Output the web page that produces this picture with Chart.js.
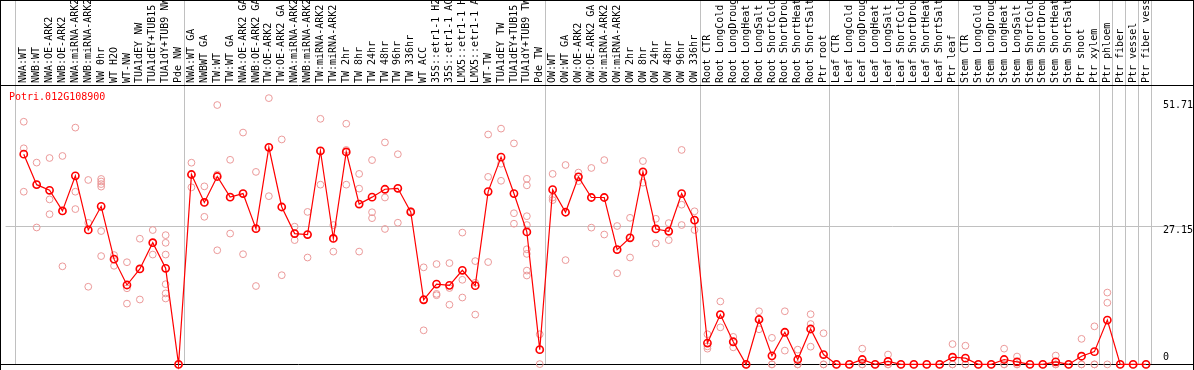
<!DOCTYPE html>
<html><head><meta charset="utf-8">
<script src="https://cdn.jsdelivr.net/npm/chart.js@4"></script>
<style>html,body{margin:0;padding:0;background:#fff;overflow:hidden}canvas{display:block}</style>
</head><body>
<canvas id="c" width="1194" height="370"></canvas>
<script>
const geneName = 'Potri.012G108900';

const categories = [
  'NWA:WT','NWB:WT','NWA:OE-ARK2','NWB:OE-ARK2','NWA:miRNA-ARK2','NWB:miRNA-ARK2','NW 0hr','WT H2O','WT-NW',
  'TUA1dEY NW','TUA1dEY+TUB15 NW','TUA1dY+TUB9 NW','Pde NW',
  'NWA:WT GA','NWBWT GA','TW:WT','TW:WT GA','NWA:OE-ARK2 GA','NWB:OE-ARK2 GA','TW:OE-ARK2','TW:OE-ARK2 GA',
  'NWA:miRNA-ARK2 GA','NWB:miRNA-ARK2 GA','TW:miRNA-ARK2','TW:miRNA-ARK2','TW 2hr','TW 8hr','TW 24hr','TW 48hr',
  'TW 96hr','TW 336hr','WT ACC','35S::etr1-1 H2O','35S::etr1-1 ACC','LMX5::etr1-1 H2O','LMX5::etr1-1 ACC',
  'WT-TW','TUA1dEY TW','TUA1dEY+TUB15 TW','TUA1dY+TUB9 TW','Pde TW',
  'OW:WT','OW:WT GA','OW:OE-ARK2','OW:OE-ARK2 GA','OW:miRNA-ARK2','OW:miRNA-ARK2','OW 2hr','OW 8hr','OW 24hr',
  'OW 48hr','OW 96hr','OW 336hr',
  'Root CTR','Root LongCold','Root LongDrought','Root LongHeat','Root LongSalt','Root ShortCold','Root ShortDrought',
  'Root ShortHeat','Root ShortSalt','Ptr root',
  'Leaf CTR','Leaf LongCold','Leaf LongDrought','Leaf LongHeat','Leaf LongSalt','Leaf ShortCold','Leaf ShortDrought',
  'Leaf ShortHeat','Leaf ShortSalt','Ptr leaf',
  'Stem CTR','Stem LongCold','Stem LongDrought','Stem LongHeat','Stem LongSalt','Stem ShortCold','Stem ShortDrought',
  'Stem ShortHeat','Stem ShortSalt','Ptr shoot','Ptr xylem',
  'Ptr phloem','Ptr fiber','Ptr vessel','Ptr fiber vessel'
];

const means = [
  41.15,35.18,34.08,30.04,36.91,26.32,30.94,20.6,15.54,18.68,23.82,18.81,0,
  37.17,31.7,36.78,32.74,33.44,26.57,42.49,30.81,25.61,25.42,41.79,24.65,41.59,31.39,32.74,34.28,34.47,29.85,
  12.65,15.73,15.47,18.42,15.41,33.83,40.57,33.44,25.93,2.89,
  34.21,29.78,36.71,32.67,32.67,22.46,24.78,37.68,26.51,26.06,33.44,28.24,
  4.17,9.75,4.43,0,8.79,1.67,6.29,0.96,6.93,1.93,
  0,0,0.96,0,0.58,0,0,0,0,1.41,
  1.22,0,0,0.96,0.51,0,0,0.51,0,1.6,2.5,
  8.67,0,0,0
];

const replicates = [
  [47.5,42.3,33.8],[39.5,35.2,26.8],[40.4,32.3,29.4],[40.8,30.0,19.2],[46.35,33.8,30.4],[36.1,27.7,15.2],
  [36.3,35.8,35.3,34.8,26.1,21.2],[21.4,20.6,19.3],[20.0,14.9,11.9],[24.6,18.7,12.7],[26.3,23.8,21.5],
  [25.3,23.8,21.5,15.7,13.9,12.9],[0,0],
  [39.48,37.17,34.66],[34.85,31.7,28.89],[50.77,37.17,22.34],[40.05,32.74,25.61],[45.38,33.44,21.57],
  [37.68,26.57,15.34],[52.12,42.49,32.93],[44.03,30.81,17.46],[26.96,25.61,24.33],[29.85,25.42,20.92],
  [48.07,41.79,35.18],[27.28,24.65,22.08],[47.11,41.98,35.18],[37.29,34.41,22.08],[39.99,29.78,28.63],
  [43.45,32.67,26.51],[41.14,34.47,27.73],[30.0,29.85,29.7],[19.0,12.65,6.67],[19.64,13.8,13.54],
  [19.83,14.95,11.68],[25.8,16.56,13.09],[20.22,15.98,9.75],[45.0,36.71,20.03],[46.15,39.28,35.94],
  [43.26,29.59,27.54],[36.33,35.05,29.01,27.28,22.53,21.63,18.36,17.4],[5.9,2.89,0.06],
  [37.29,32.67,32.16],[39.03,29.78,20.41],[37.55,36.71,35.88],[38.45,32.67,26.77],[39.99,32.67,25.42],
  [27.09,22.46,17.84],[28.69,24.78,20.92],[39.8,37.68,35.57],[28.5,26.51,23.69],[27.66,26.06,24.33],
  [41.98,31.26,27.28],[29.97,28.24,26.31],
  [5.9,3.53,3.08],[12.32,9.75,7.25],[5.39,4.43,3.34],[0,0],[10.4,8.79,6.87],[5.2,0,0],[10.4,6.29,2.7],
  [2.89,0,0],[9.82,7.9,3.47],[6.1,0,0],
  [0],[0],[3.08,0,0],[0],[1.93,0,0],[0],[0],[0],[0],[3.98,0,0],
  [3.66,0,0],[0],[0],[3.08,0,0],[1.54,0,0],[0],[0],[1.73,0,0],[0],[5.0,0,0],[7.45,0,0],
  [14.06,12.07,0],[0],[0],[0]
];

const groupEnds = [12, 40, 52, 62, 72, 83, 84, 85, 86, 87];
const yTickValues = [0, 27.15, 51.71];
const yTickLabels = ['0', '27.15', '51.71'];
const gridValues = [27.15];

const FONT = '10px "DejaVu Sans Mono", monospace';
const MEAN_COLOR = '#ff0000';
const REP_COLOR = '#ec9a9a';

const meanData = means.map((v, i) => ({x: i, y: v}));
const repData = [];
replicates.forEach((arr, i) => arr.forEach(v => repData.push({x: i, y: v})));

const decor = {
  id: 'decor',
  beforeDraw(chart) {
    const ctx = chart.ctx;
    ctx.save();
    ctx.fillStyle = '#fff';
    ctx.fillRect(0, 0, chart.width, chart.height);
    ctx.restore();
  },
  beforeDatasetsDraw(chart) {
    const {ctx, chartArea: a, scales: {x, y}} = chart;
    ctx.save();
    ctx.lineWidth = 1;
    // group separators
    ctx.strokeStyle = '#c0c0c0';
    const seps = [x.getPixelForValue(0) - 9].concat(groupEnds.map(i => x.getPixelForValue(i) + 5));
    seps.forEach(px => {
      const xx = Math.round(px) + 0.5;
      ctx.beginPath(); ctx.moveTo(xx, 0); ctx.lineTo(xx, a.bottom); ctx.stroke();
    });
    // grid line
    gridValues.forEach(v => {
      const yy = Math.round(y.getPixelForValue(v)) + 0.5;
      ctx.beginPath(); ctx.moveTo(a.left, yy); ctx.lineTo(a.right, yy); ctx.stroke();
    });
    // frame
    ctx.strokeStyle = '#000';
    ctx.beginPath();
    ctx.moveTo(0.5, 0); ctx.lineTo(0.5, 370);
    ctx.moveTo(1193.5, 0); ctx.lineTo(1193.5, 370);
    ctx.moveTo(0, 0.5); ctx.lineTo(1194, 0.5);
    ctx.moveTo(0, Math.round(a.top) + 0.5); ctx.lineTo(1194, Math.round(a.top) + 0.5);
    ctx.moveTo(0, Math.round(a.bottom) + 0.5); ctx.lineTo(1194, Math.round(a.bottom) + 0.5);
    ctx.stroke();

    // category labels
    ctx.save();
    ctx.beginPath(); ctx.rect(1, 1, 1192, a.top - 1); ctx.clip();
    ctx.fillStyle = '#000';
    ctx.font = FONT;
    ctx.textAlign = 'left';
    ctx.textBaseline = 'middle';
    categories.forEach((lab, i) => {
      ctx.save();
      ctx.translate(x.getPixelForValue(i), a.top - 2);
      ctx.rotate(-Math.PI / 2);
      ctx.fillText(lab, 0, 0);
      ctx.restore();
    });
    ctx.restore();

    // gene name
    ctx.fillStyle = MEAN_COLOR;
    ctx.font = FONT;
    ctx.textAlign = 'left';
    ctx.textBaseline = 'middle';
    ctx.fillText(geneName, 9, a.top + 12);

    // y tick labels
    ctx.fillStyle = '#000';
    yTickValues.forEach((v, k) => {
      const py = y.getPixelForValue(v);
      if (v === 0) {
        ctx.textBaseline = 'middle';
        ctx.fillText(yTickLabels[k], 1163, py - 7);
      } else {
        ctx.textBaseline = 'middle';
        ctx.fillText(yTickLabels[k], 1163, py + 5);
      }
    });
    ctx.restore();
  }
};

new Chart(document.getElementById('c'), {
  type: 'scatter',
  data: {
    datasets: [
      {
        label: 'mean',
        data: meanData,
        showLine: true,
        borderColor: MEAN_COLOR,
        borderWidth: 1.2,
        backgroundColor: 'rgba(0,0,0,0)',
        pointRadius: 3.6,
        pointBorderWidth: 1.6,
        pointBorderColor: MEAN_COLOR,
        pointBackgroundColor: 'rgba(0,0,0,0)',
        tension: 0,
        clip: false,
        order: 0
      },
      {
        label: 'replicates',
        data: repData,
        showLine: false,
        pointRadius: 3.4,
        pointBorderWidth: 1,
        pointBorderColor: REP_COLOR,
        pointBackgroundColor: 'rgba(0,0,0,0)',
        clip: false,
        order: 1
      }
    ]
  },
  options: {
    responsive: false,
    animation: false,
    devicePixelRatio: 1,
    events: [],
    layout: {padding: {left: 1, right: 1, top: 85, bottom: 1}},
    plugins: {legend: {display: false}, tooltip: {enabled: false}},
    scales: {
      x: {type: 'linear', display: false, min: -1.4077, max: 90.285},
      y: {type: 'linear', display: false, min: 0, max: 54.69}
    }
  },
  plugins: [decor]
});
</script>
</body></html>
